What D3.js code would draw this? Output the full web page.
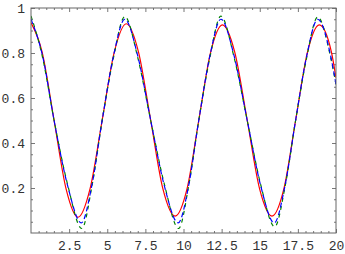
<!DOCTYPE html>
<html>
<head>
<meta charset="utf-8">
<script src="https://cdn.jsdelivr.net/npm/d3@7"></script>
<style>
  body { margin: 0; background: #fff; }
  .tick text { font-family: "Liberation Mono", "DejaVu Sans Mono", monospace; font-size: 13px; fill: #333; }
</style>
</head>
<body>
<svg id="chart" width="345" height="254"></svg>
<script>
// tick values and labels
const xTicks = [2.5, 5, 7.5, 10, 12.5, 15, 17.5, 20];
const xTickLabels = ["2.5", "5", "7.5", "10", "12.5", "15", "17.5", "20"];
const yTicks = [0.2, 0.4, 0.6, 0.8, 1];
const yTickLabels = ["0.2", "0.4", "0.6", "0.8", "1"];

// red solid curve
const redX = [0, 0.73, 1.515, 2.30, 3.08, 3.87, 4.665, 5.46, 6.25, 7.05, 7.85, 8.65, 9.45, 10.23, 11.0, 11.78, 12.55, 13.36, 14.18, 14.99, 15.8, 16.58, 17.35, 18.13, 18.9, 19.7, 20];
const redY = [0.935, 0.804, 0.5, 0.196, 0.07, 0.196, 0.5, 0.804, 0.93, 0.804, 0.5, 0.196, 0.075, 0.196, 0.5, 0.804, 0.925, 0.804, 0.5, 0.196, 0.075, 0.196, 0.5, 0.804, 0.925, 0.804, 0.69];

// green dashed curve
const greenX = [0, 0.76, 1.515, 2.42, 3.33, 4.0, 4.665, 5.41, 6.15, 7.0, 7.85, 8.77, 9.68, 10.34, 11.0, 11.73, 12.45, 13.32, 14.18, 15.08, 15.98, 16.67, 17.35, 18.08, 18.8, 19.65, 20];
const greenY = [0.965, 0.78, 0.5, 0.21, 0.02, 0.21, 0.5, 0.78, 0.962, 0.78, 0.5, 0.21, 0.02, 0.21, 0.5, 0.78, 0.964, 0.78, 0.5, 0.21, 0.028, 0.21, 0.5, 0.78, 0.96, 0.78, 0.66];

// blue dashed curve
const blueX = [0, 0.76, 1.515, 2.41, 3.3, 3.98, 4.665, 5.41, 6.15, 7.0, 7.85, 8.75, 9.65, 10.33, 11.0, 11.73, 12.45, 13.32, 14.18, 15.07, 15.95, 16.65, 17.35, 18.08, 18.8, 19.65, 20];
const blueY = [0.95, 0.787, 0.5, 0.208, 0.045, 0.208, 0.5, 0.787, 0.95, 0.787, 0.5, 0.208, 0.045, 0.208, 0.5, 0.787, 0.95, 0.787, 0.5, 0.208, 0.045, 0.208, 0.5, 0.787, 0.95, 0.787, 0.66];

const width = 345, height = 254;
const margin = { top: 8, right: 9, bottom: 21, left: 31 };

const svg = d3.select("#chart");

const x = d3.scaleLinear().domain([0, 20]).range([margin.left, width - margin.right]);
const y = d3.scaleLinear().domain([0, 1]).range([height - margin.bottom, margin.top]);

// minor tick positions
const xMinor = d3.range(0.5, 20, 0.5).filter(v => Math.abs(v / 2.5 - Math.round(v / 2.5)) > 1e-6);
const yMinor = d3.range(0.05, 1, 0.05).filter(v => Math.abs(v / 0.2 - Math.round(v / 0.2)) > 1e-6);

const tickColor = "#777";

function styleAxis(g) {
  g.select(".domain").remove();
  g.selectAll(".tick line").attr("stroke", tickColor);
}

// bottom
svg.append("g")
  .attr("transform", `translate(0,${y(0)})`)
  .call(d3.axisBottom(x).tickValues(xTicks).tickSize(-4).tickPadding(8)
    .tickFormat((d, i) => xTickLabels[i]))
  .call(styleAxis);
svg.append("g")
  .attr("transform", `translate(0,${y(0)})`)
  .call(d3.axisBottom(x).tickValues(xMinor).tickSize(-2).tickFormat(""))
  .call(styleAxis);

// top
svg.append("g")
  .attr("transform", `translate(0,${y(1)})`)
  .call(d3.axisTop(x).tickValues(xTicks).tickSize(-4).tickFormat(""))
  .call(styleAxis);
svg.append("g")
  .attr("transform", `translate(0,${y(1)})`)
  .call(d3.axisTop(x).tickValues(xMinor).tickSize(-2).tickFormat(""))
  .call(styleAxis);

// left
svg.append("g")
  .attr("transform", `translate(${x(0)},0)`)
  .call(d3.axisLeft(y).tickValues(yTicks).tickSize(-4).tickPadding(6)
    .tickFormat((d, i) => yTickLabels[i]))
  .call(styleAxis);
svg.append("g")
  .attr("transform", `translate(${x(0)},0)`)
  .call(d3.axisLeft(y).tickValues(yMinor).tickSize(-2).tickFormat(""))
  .call(styleAxis);

// right
svg.append("g")
  .attr("transform", `translate(${x(20)},0)`)
  .call(d3.axisRight(y).tickValues(yTicks).tickSize(-4).tickFormat(""))
  .call(styleAxis);
svg.append("g")
  .attr("transform", `translate(${x(20)},0)`)
  .call(d3.axisRight(y).tickValues(yMinor).tickSize(-2).tickFormat(""))
  .call(styleAxis);

// clip
svg.append("clipPath").attr("id", "plotClip")
  .append("rect")
  .attr("x", x(0)).attr("y", y(1))
  .attr("width", x(20) - x(0)).attr("height", y(0) - y(1));

const line = d3.line()
  .x(d => x(d[0]))
  .y(d => y(d[1]))
  .curve(d3.curveMonotoneX);

const series = [
  { xs: redX, ys: redY, color: "#ff0000", dash: null },
  { xs: greenX, ys: greenY, color: "#008000", dash: "4,4" },
  { xs: blueX, ys: blueY, color: "#0000ff", dash: "5,3" }
];

svg.append("g")
  .attr("clip-path", "url(#plotClip)")
  .selectAll("path")
  .data(series)
  .enter()
  .append("path")
  .attr("d", s => line(s.xs.map((v, i) => [v, s.ys[i]])))
  .attr("fill", "none")
  .attr("stroke", s => s.color)
  .attr("stroke-width", 1.2)
  .attr("stroke-dasharray", s => s.dash);

// frame
svg.append("rect")
  .attr("x", x(0)).attr("y", y(1))
  .attr("width", x(20) - x(0)).attr("height", y(0) - y(1))
  .attr("fill", "none")
  .attr("stroke", "#666")
  .attr("stroke-width", 1);
</script>
</body>
</html>
